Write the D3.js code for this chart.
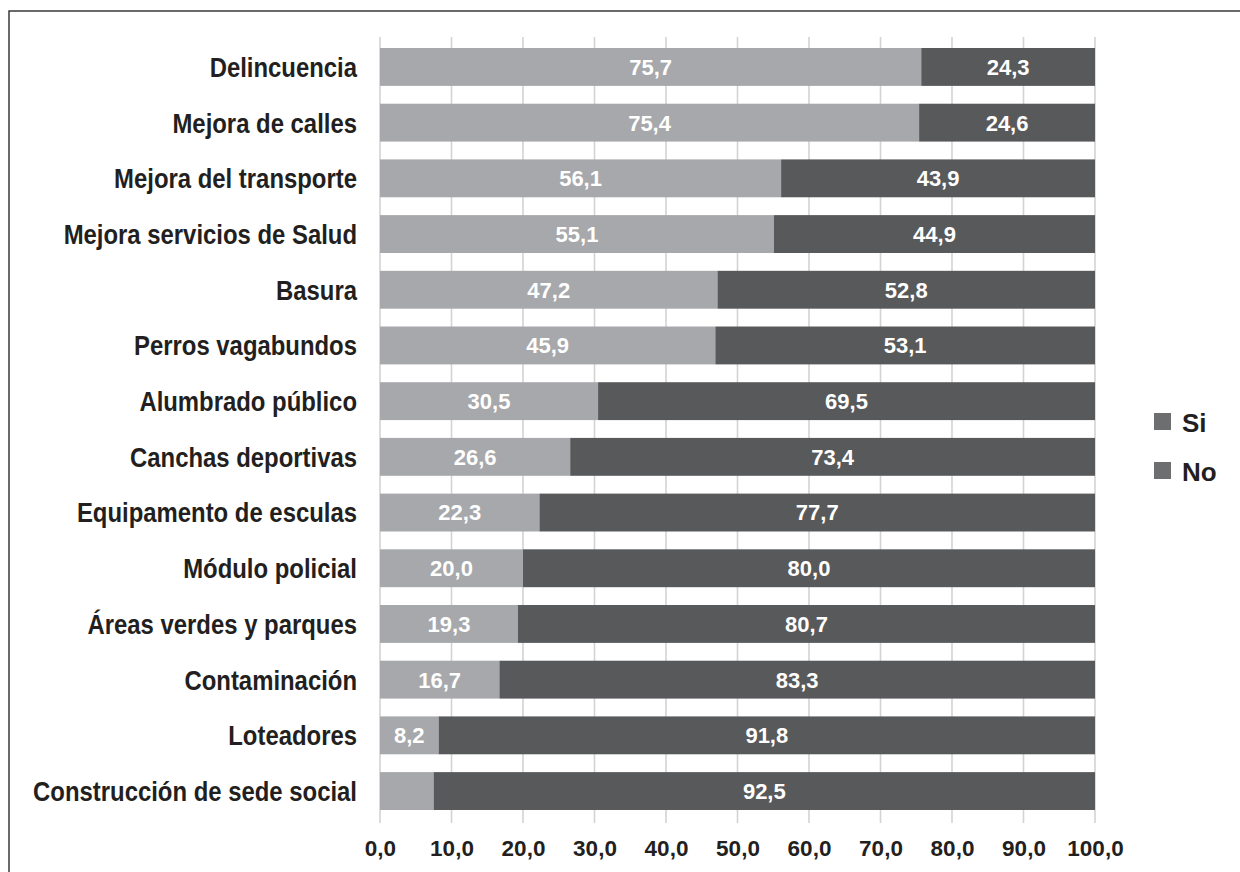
<!DOCTYPE html>
<html><head><meta charset="utf-8">
<script src="https://cdn.jsdelivr.net/npm/d3@7"></script>
<style>
html,body{margin:0;padding:0;background:#fff;}
svg{display:block;}
</style></head>
<body>
<svg id="chart" width="1240" height="872"></svg>
<script>
const categories = ["Delincuencia","Mejora de calles","Mejora del transporte","Mejora servicios de Salud","Basura","Perros vagabundos","Alumbrado público","Canchas deportivas","Equipamento de esculas","Módulo policial","Áreas verdes  y parques","Contaminación","Loteadores","Construcción de sede social"];
const siValues = [75.7,75.4,56.1,55.1,47.2,45.9,30.5,26.6,22.3,20.0,19.3,16.7,8.2,7.5];
const noValues = [24.3,24.6,43.9,44.9,52.8,53.1,69.5,73.4,77.7,80.0,80.7,83.3,91.8,92.5];
const xTicks = [0,10,20,30,40,50,60,70,80,90,100];
const seriesNames = ["Si","No"];

const colLight = "#a7a8ab", colDark = "#58595b", colLegend = "#6d6e70";
const FONT = "Liberation Sans, Arial, Helvetica, sans-serif";
const svg = d3.select("#chart");
const x = d3.scaleLinear().domain([0,100]).range([380,1095]);
const y = d3.scaleBand().domain(categories).range([39.1,818.9]).paddingInner(0.32).paddingOuter(0.16);
const fmt = v => d3.format(".1f")(v).replace(".", ",");

// frame
svg.append("path").attr("d","M9,880 L9,11 L1250,11").attr("fill","none").attr("stroke","#3a3a3a").attr("stroke-width",1.5);

// grid
svg.append("g").selectAll("line").data(xTicks).join("line")
  .attr("x1",d=>x(d)).attr("x2",d=>x(d)).attr("y1",37).attr("y2",823)
  .attr("stroke","#d3d3d3").attr("stroke-width",1.6);

const rows = categories.map((c,i)=>({c, si:siValues[i], no:noValues[i]}));
const g = svg.append("g");
g.selectAll("rect.si").data(rows).join("rect").attr("class","si")
  .attr("x",x(0)).attr("y",d=>y(d.c)).attr("height",y.bandwidth())
  .attr("width",d=>x(100-d.no)-x(0)).attr("fill",colLight);
g.selectAll("rect.no").data(rows).join("rect").attr("class","no")
  .attr("x",d=>x(100-d.no)).attr("y",d=>y(d.c)).attr("height",y.bandwidth())
  .attr("width",d=>x(100)-x(100-d.no)).attr("fill",colDark);

function styleVal(sel){ return sel.attr("font-family",FONT).attr("font-weight","bold").attr("font-size","22px")
  .attr("fill","#fff").attr("text-anchor","middle").attr("dy","0.36em"); }
styleVal(g.selectAll("text.si").data(rows.filter(d=>d.si>=8)).join("text").attr("class","si")
  .attr("x",d=>(x(0)+x(100-d.no))/2).attr("y",d=>y(d.c)+y.bandwidth()/2).text(d=>fmt(d.si)));
styleVal(g.selectAll("text.no").data(rows).join("text").attr("class","no")
  .attr("x",d=>(x(100-d.no)+x(100))/2).attr("y",d=>y(d.c)+y.bandwidth()/2).text(d=>fmt(d.no)));

// category labels (condensed bold)
const catG = svg.append("g");
const cats = catG.selectAll("text").data(categories).join("text")
  .attr("x",0).attr("y",0).attr("dy","0.36em")
  .attr("text-anchor","end").attr("font-family",FONT)
  .attr("font-weight","bold").attr("font-size","27.5px").attr("fill","#231f20").text(d=>d);
const maxW = d3.max(cats.nodes(), n=>n.getComputedTextLength());
const sx = 324 / maxW;
cats.attr("transform",d=>`translate(357,${y(d)+y.bandwidth()/2}) scale(${sx},1)`);

// x axis
const ax = svg.append("g").attr("transform","translate(0,837)")
  .call(d3.axisBottom(x).tickValues(xTicks).tickSize(0).tickFormat(fmt));
ax.select(".domain").remove();
ax.selectAll("text").attr("font-family",FONT).attr("font-weight","bold")
  .attr("font-size","22.5px").attr("fill","#231f20");

// legend
const lg = svg.append("g").selectAll("g").data(seriesNames).join("g")
  .attr("transform",(d,i)=>`translate(1154,${413+i*49})`);
lg.append("rect").attr("width",17).attr("height",17).attr("fill",colLegend);
lg.append("text").attr("x",28).attr("y",18.5).attr("font-family",FONT)
  .attr("font-weight","bold").attr("font-size","26px").attr("fill","#231f20").text(d=>d);
</script>
</body></html>
